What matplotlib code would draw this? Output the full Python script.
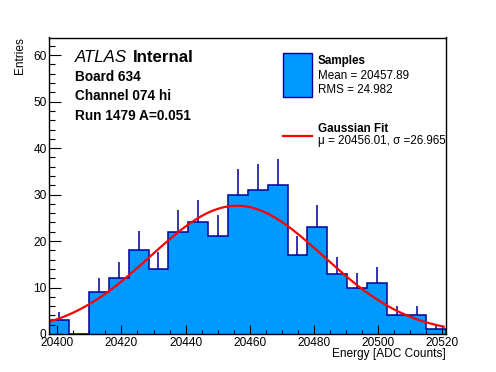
import numpy as np
import matplotlib
matplotlib.use("Agg")
import matplotlib.pyplot as plt
from matplotlib.ticker import MultipleLocator

plt.rcParams['font.family'] = ['Liberation Sans', 'DejaVu Sans']

# histogram: 20 bins between xmin and xmax
xmin, xmax = 20397.5, 20521.3
counts = [3, 0, 9, 12, 18, 14, 22, 24, 21, 30, 31, 32, 17, 23, 13, 10, 11, 4, 4, 1]

# gaussian fit parameters
fit_mu = 20456.01
fit_sigma = 26.965
fit_const = 27.6

info_lines = ["Board 634", "Channel 074 hi", "Run 1479 A=0.051"]

W, H = 496, 372
fig = plt.figure(figsize=(W / 100, H / 100), dpi=100)
ax = fig.add_axes([49.3 / W, 1 - 334 / H, (446.3 - 49.3) / W, (334 - 37.5) / H])

edges = np.linspace(xmin, xmax, len(counts) + 1)
centers = 0.5 * (edges[:-1] + edges[1:])
vals = np.array(counts, dtype=float)

fill = '#0099ff'
dark = '#000099'
# filled histogram as one polygon, then the outline
ax.stairs(vals, edges, baseline=0, fill=True, color=fill, linewidth=0, zorder=1)
ax.stairs(vals, edges, baseline=0, color=dark, linewidth=1.1, zorder=2)
err = np.sqrt(vals)
nz = vals > 0
ax.vlines(centers[nz], vals[nz], (vals + err)[nz], color=dark, linewidth=1.1, zorder=2)

xf = np.linspace(xmin + 0.1, 20520.5, 300)
yf = fit_const * np.exp(-0.5 * ((xf - fit_mu) / fit_sigma) ** 2)
ax.plot(xf, yf, color='#ff0000', linewidth=1.6, zorder=3)

ax.set_xlim(xmin, xmax)
ax.set_ylim(0, 63.8)
ax.xaxis.set_major_locator(MultipleLocator(20))
ax.xaxis.set_minor_locator(MultipleLocator(5))
ax.yaxis.set_major_locator(MultipleLocator(10))
ax.yaxis.set_minor_locator(MultipleLocator(2))
ax.tick_params(axis='x', which='major', direction='in', length=6.5, width=0.8, labelsize=8.6, pad=2.5)
ax.tick_params(axis='x', which='minor', direction='in', length=3.2, width=0.8)
ax.tick_params(axis='y', which='major', direction='in', length=8.6, width=0.8, labelsize=8.6, pad=2)
ax.tick_params(axis='y', which='minor', direction='in', length=4.3, width=0.8)
ax.ticklabel_format(useOffset=False)
for s in ax.spines.values():
    s.set_linewidth(1.0)
    s.set_zorder(4)


def px(x, y):
    return x / W, 1 - y / H


fig.text(*px(446, 354), "Energy [ADC Counts]", ha='right', va='center', fontsize=8.6)
fig.text(*px(20, 37.5), "Entries", rotation=90, ha='center', va='top', fontsize=8.6)

# ATLAS label
t = fig.text(*px(75, 57), "ATLAS", fontstyle='italic', fontsize=12.2, ha='left', va='center')
r = fig.canvas.get_renderer()
bb = t.get_window_extent(renderer=r)
fig.text((bb.x1 + 6) / W, 1 - 57 / H, "Internal", fontweight='bold', fontsize=12.2, ha='left', va='center')
for i, s in enumerate(info_lines):
    fig.text(*px(75, 77 + 19.3 * i), s, fontweight='bold', fontsize=9.8, ha='left', va='center')

# legend
ax_l = fig.add_axes([0, 0, 1, 1], facecolor='none')
ax_l.set_xlim(0, W)
ax_l.set_ylim(H, 0)
ax_l.axis('off')
ax_l.add_patch(plt.Rectangle((283.3, 53.3), 28.3, 43.4, facecolor=fill, edgecolor=dark, linewidth=1.0))
ax_l.plot([283.3, 311.6], [136, 136], color='#ff0000', linewidth=1.6)
ax_l.text(317.7, 61, "Samples", fontweight='bold', fontsize=8.4, va='center')
ax_l.text(317.7, 76, "Mean = 20457.89", fontsize=8.4, va='center')
ax_l.text(317.7, 90, "RMS = 24.982", fontsize=8.4, va='center')
ax_l.text(317.7, 129.5, "Gaussian Fit", fontweight='bold', fontsize=8.4, va='center')
ax_l.text(317.7, 141, "\u03bc = %.2f, \u03c3 =%.3f" % (fit_mu, fit_sigma), fontsize=8.4, va='center')

fig.savefig("out.png", dpi=100)
